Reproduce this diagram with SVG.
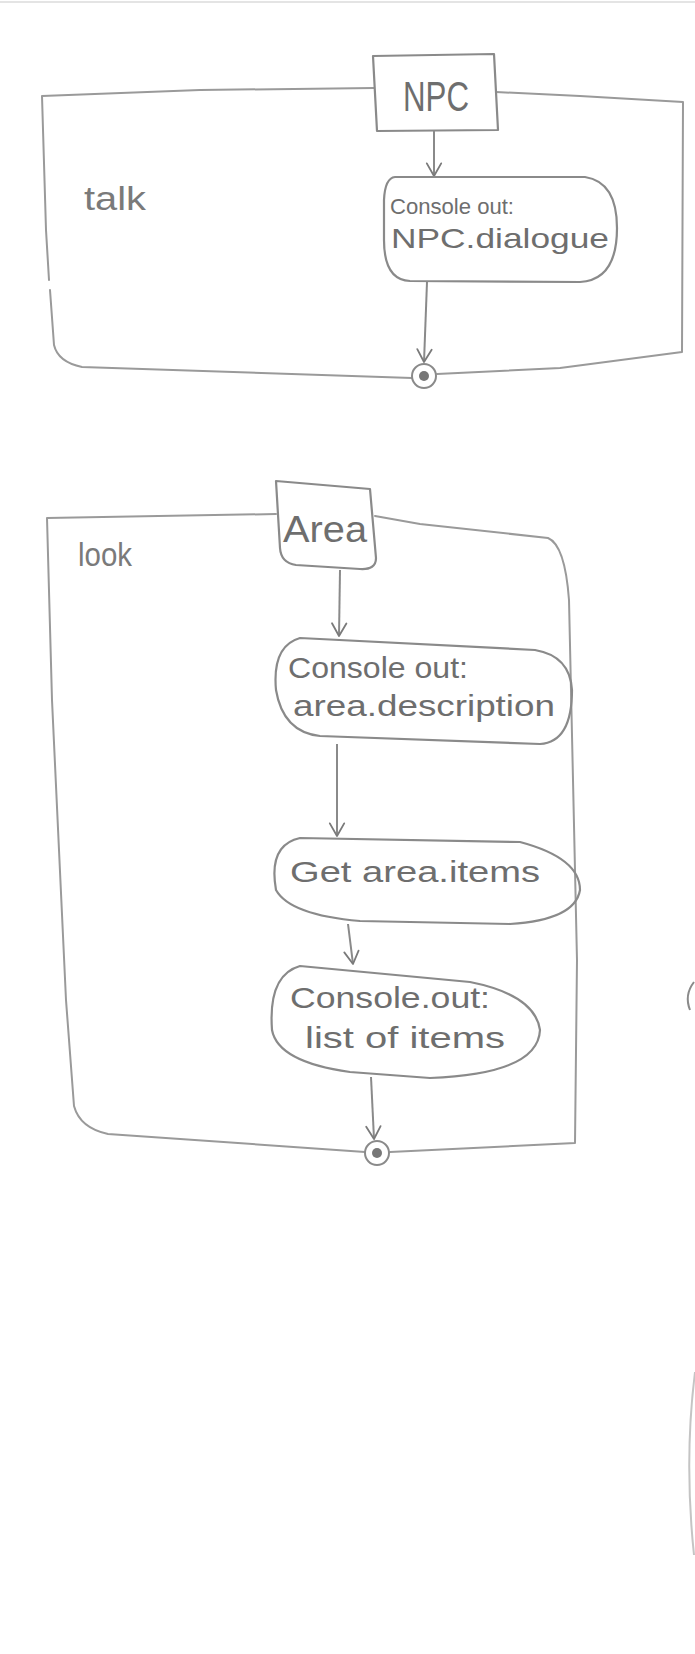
<svg xmlns="http://www.w3.org/2000/svg" width="695" height="1654" viewBox="0 0 695 1654">
<defs>
<marker id="arr" viewBox="0 0 20 20" refX="17" refY="10" markerWidth="18" markerHeight="18" markerUnits="userSpaceOnUse" orient="auto">
<path d="M3 2 L17 10 L3 18" fill="none" stroke="#7a7a7a" stroke-width="2" stroke-linecap="round" stroke-linejoin="round"/>
</marker>
<style>
.frame{fill:none;stroke:#9a9a9a;stroke-width:2;stroke-linecap:round;stroke-linejoin:round}
.box{fill:none;stroke:#8a8a8a;stroke-width:2.2;stroke-linecap:round;stroke-linejoin:round}
.edge{fill:none;stroke:#8a8a8a;stroke-width:2;marker-end:url(#arr)}
.t{font-family:"Liberation Sans","DejaVu Sans",sans-serif;fill:#6e6e6e}
.lbl{font-family:"Liberation Sans","DejaVu Sans",sans-serif;fill:#7a7a7a;font-size:34px}
.fin{fill:#fff;stroke:#8a8a8a;stroke-width:2}
.dot{fill:#777}
.faint{fill:none;stroke:#c4c4c4;stroke-width:2}
</style>
</defs>
<rect width="695" height="1654" fill="#ffffff"/>
<line x1="0" y1="2" x2="695" y2="2" stroke="#e4e4e4" stroke-width="2"/>

<g id="frame-talk">
<path class="frame" d="M374 88 L200 90 L42 96 L46 230 L49 280 M50 290 L54 345 Q58 362 82 367 L412 378 M437 374 L560 368 L682 352 L683 102 L580 96 L496 92"/>
<text class="lbl" x="84" y="210" textLength="62" lengthAdjust="spacingAndGlyphs">talk</text>
</g>

<g id="frame-look">
<path class="frame" d="M276 514 L47 518 L52 700 L66 1000 L74 1106 Q80 1128 108 1134 L365 1152 M390 1152 L575 1143 L577 960 L569 600 Q565 545 548 538 L420 524 L375 516"/>
<text class="lbl" x="78" y="566" textLength="54" lengthAdjust="spacingAndGlyphs">look</text>
</g>

<g id="connectors">
<path class="edge" d="M434 131 L434 176"/>
<path class="edge" d="M427 282 L424 362"/>
<path class="edge" d="M340 570 L339 636"/>
<path class="edge" d="M337 744 L337 836"/>
<path class="edge" d="M348 924 L353 964"/>
<path class="edge" d="M371 1077 L374 1139"/>
</g>

<g id="npc">
<path class="box" d="M373 56 L494 54 L498 130 L377 131 Z"/>
<text class="t" x="436" y="111" font-size="42" text-anchor="middle" textLength="66" lengthAdjust="spacingAndGlyphs">NPC</text>
</g>

<g id="console-npc">
<path class="box" d="M395 177 L585 177 Q617 182 617 228 Q617 280 580 282 L410 281 Q384 280 384 240 L384 200 Q385 178 395 177 Z"/>
<text class="t" x="390" y="214" font-size="22" textLength="124" lengthAdjust="spacingAndGlyphs">Console out:</text>
<text class="t" x="391" y="248" font-size="28" textLength="218" lengthAdjust="spacingAndGlyphs">NPC.dialogue</text>
</g>

<g id="final-talk">
<circle class="fin" cx="424" cy="376" r="12"/>
<circle class="dot" cx="424" cy="376" r="5"/>
</g>

<g id="area">
<path class="box" d="M276 481 L370 489 L376 558 Q376 570 360 569 L296 565 Q281 563 280 548 Z"/>
<text class="t" x="283" y="542" font-size="36" textLength="84" lengthAdjust="spacingAndGlyphs">Area</text>
</g>

<g id="console-area">
<path class="box" d="M300 638 L535 650 Q570 656 572 690 Q572 742 540 744 L320 736 Q283 732 276 690 Q272 646 300 638 Z"/>
<text class="t" x="288" y="678" font-size="30" textLength="180" lengthAdjust="spacingAndGlyphs">Console out:</text>
<text class="t" x="293" y="716" font-size="30" textLength="262" lengthAdjust="spacingAndGlyphs">area.description</text>
</g>

<g id="get-items">
<path class="box" d="M300 838 L520 842 Q580 858 580 890 Q575 920 510 924 L360 921 Q290 915 276 890 Q268 845 300 838 Z"/>
<text class="t" x="290" y="882" font-size="30" textLength="250" lengthAdjust="spacingAndGlyphs">Get area.items</text>
</g>

<g id="console-items">
<path class="box" d="M300 966 L470 982 Q535 995 540 1030 Q538 1074 430 1078 L350 1072 Q278 1062 272 1030 Q268 975 300 966 Z"/>
<text class="t" x="290" y="1008" font-size="30" textLength="200" lengthAdjust="spacingAndGlyphs">Console.out:</text>
<text class="t" x="305" y="1048" font-size="30" textLength="200" lengthAdjust="spacingAndGlyphs">list of items</text>
</g>

<g id="final-look">
<circle class="fin" cx="377" cy="1153" r="12"/>
<circle class="dot" cx="377" cy="1153" r="5"/>
</g>

<path d="M694 982 Q684 995 690 1010" fill="none" stroke="#8a8a8a" stroke-width="2"/>
<path class="faint" d="M695 1372 Q684 1460 694 1555"/>
</svg>
